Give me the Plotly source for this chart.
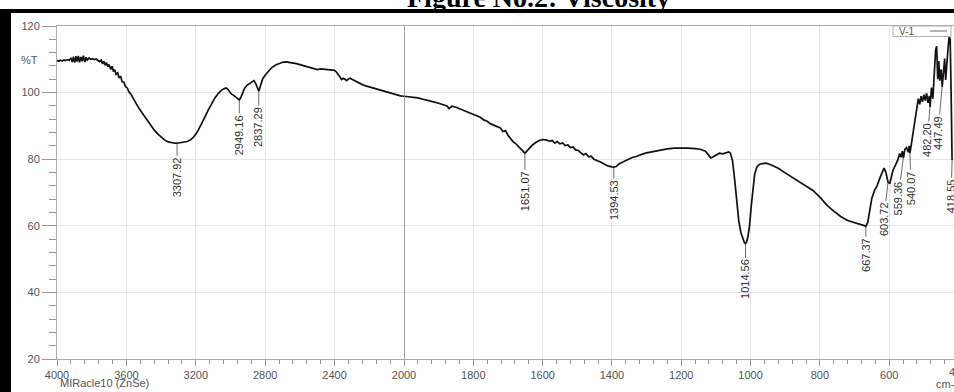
import plotly.graph_objects as go

# ---------------- data ----------------
wavenumber = [
    4000, 3990, 3980, 3970, 3960, 3950, 3940, 3930, 3920, 3912, 3905, 3898, 3890, 3884, 3877, 3870,
    3862, 3855, 3848, 3840, 3832, 3825, 3815, 3805, 3795, 3785, 3775, 3765, 3755, 3745, 3738, 3730,
    3722, 3715, 3707, 3700, 3690, 3682, 3675, 3667, 3660, 3650, 3642, 3633, 3625, 3615, 3605, 3595,
    3585, 3575, 3565, 3555, 3545, 3530, 3515, 3500, 3480, 3460, 3440, 3420, 3400, 3380, 3360, 3340,
    3320, 3308, 3290, 3270, 3250, 3230, 3210, 3190, 3170, 3150, 3130, 3110, 3090, 3070, 3050, 3035,
    3025, 3015, 3005, 2995, 2980, 2965, 2955, 2949, 2940, 2930, 2920, 2905, 2890, 2875, 2865, 2855,
    2846, 2840, 2837, 2832, 2825, 2815, 2800, 2780, 2760, 2740, 2720, 2700, 2680, 2660, 2640, 2620,
    2600, 2580, 2560, 2540, 2520, 2500, 2480, 2460, 2440, 2420, 2400, 2390, 2380, 2370, 2360, 2350,
    2340, 2330, 2320, 2310, 2300, 2280, 2260, 2240, 2220, 2200, 2180, 2160, 2140, 2120, 2100, 2080,
    2060, 2040, 2020, 2000,
    1990, 1975, 1960, 1945, 1930, 1915, 1900, 1885, 1876, 1870, 1862, 1850, 1835, 1820, 1805, 1790,
    1780, 1770, 1760, 1750, 1740, 1730, 1722, 1715, 1707, 1700, 1692, 1685, 1677, 1670, 1662, 1655,
    1651, 1645, 1638, 1630, 1620, 1610, 1600, 1590, 1580, 1572, 1565, 1558, 1550, 1542, 1535, 1527,
    1520, 1512, 1505, 1497, 1490, 1482, 1475, 1467, 1460, 1452, 1445, 1437, 1430, 1420, 1410, 1400,
    1394, 1388, 1380, 1370, 1360, 1350, 1340, 1330, 1320, 1310, 1300, 1285, 1270, 1255, 1240, 1220,
    1200, 1180, 1160, 1145, 1130, 1120, 1115, 1110, 1100, 1090, 1080, 1070, 1063, 1058, 1052, 1046,
    1040, 1034, 1028, 1022, 1018, 1015, 1012, 1008, 1003, 998, 993, 988, 982, 975, 965, 955,
    945, 935, 920, 900, 880, 860, 840, 820, 800, 780, 760, 740, 720, 700, 690, 680,
    672, 667, 662, 656, 650, 642, 635, 627, 620, 615, 610, 605, 603, 598, 595, 589,
    582, 575, 570, 566, 562, 559, 555, 550, 545, 542, 540, 535, 530, 525, 520, 516,
    512, 508, 504, 500, 496, 492, 488, 484, 482, 478, 474, 470, 466, 463, 460, 457,
    454, 450, 447, 443, 440, 437, 434, 430, 427, 424, 421, 419.5, 418.6,
]
transmittance = [
    109.6, 109.4, 109.7, 109.5, 109.8, 109.6, 109.9, 109.7, 110.3, 109.2, 110.8, 109.0, 110.9, 109.3, 111.0, 109.1,
    110.7, 109.4, 111.1, 109.2, 110.6, 109.8, 110.4, 110.0, 110.2, 109.9, 110.1, 109.6, 109.3, 109.8, 108.6, 109.4,
    108.2, 109.0, 107.8, 108.4, 107.0, 107.9, 106.3, 106.9, 105.5, 105.9, 104.4, 104.9, 103.3, 103.1, 101.8, 101.4,
    100.2, 99.6, 98.6, 97.7, 96.9, 95.5, 94.3, 93.2, 91.6, 90.1, 88.8, 87.6, 86.6, 85.8, 85.2, 84.9,
    84.8, 84.8, 84.9, 85.0, 85.3, 85.8, 86.8, 88.3, 90.2, 92.4, 94.6, 96.6, 98.4, 99.8, 100.8, 101.2,
    101.4, 101.0, 100.2, 99.6, 99.1, 98.5, 98.0, 97.8, 98.6, 99.9, 101.2, 102.2, 102.8, 103.4, 103.6, 102.8,
    101.5, 100.6, 100.4, 101.2, 102.8, 104.1, 105.3, 106.6, 107.6, 108.3, 108.8, 109.1, 109.2, 109.1, 108.9, 108.7,
    108.4, 108.1, 107.8, 107.4, 107.1, 106.9, 107.1, 107.0, 106.9, 106.8, 106.7, 106.2, 105.6, 104.8, 103.9, 104.3,
    104.0, 103.6, 104.1, 104.3, 104.0, 103.4, 102.9, 102.4, 102.0, 101.7, 101.4, 101.0, 100.6, 100.3, 100.0, 99.8,
    99.5, 99.2, 99.0, 98.9,
    98.8, 98.6, 98.4, 98.0, 97.7, 97.2, 96.8, 96.4, 96.0, 95.2, 95.9, 95.6, 95.0, 94.4, 93.7, 93.0,
    92.6, 91.8, 91.4, 90.6, 90.2, 89.6, 89.4, 88.3, 88.6, 87.2, 86.2, 85.2, 84.6, 83.9, 83.1, 82.1,
    81.8, 82.5, 83.4, 84.2, 85.0, 85.6, 85.9, 85.8, 85.4, 85.6, 84.8, 85.3, 84.6, 84.9, 84.1, 84.3,
    83.5, 83.7, 82.8, 82.6, 82.0, 81.3, 81.7, 80.7, 80.9, 80.0, 79.7, 79.4, 79.0, 78.4, 77.9, 77.7,
    77.6, 77.8, 78.6, 79.1, 79.6, 79.9, 80.6, 80.8, 81.3, 81.6, 81.9, 82.2, 82.6, 82.9, 83.1, 83.3,
    83.4, 83.3, 83.2, 83.0, 82.4, 81.2, 80.4, 80.6, 81.3, 81.8, 81.6, 82.0, 82.2, 81.8, 79.5, 74.0,
    67.0, 61.5, 58.0, 56.0, 55.0, 54.7, 55.0, 56.5, 60.0, 66.0, 72.0, 75.6, 77.6, 78.4, 78.7, 78.8,
    78.5, 78.0, 77.3, 75.9, 74.6, 73.2, 71.8, 70.6, 68.6, 66.2, 64.4, 62.8, 61.6, 60.9, 60.6, 60.4,
    60.1, 59.9, 61.0, 65.0, 68.3, 70.7, 72.0, 74.3, 76.0, 77.3, 76.2, 74.2, 73.0, 72.8, 74.0, 76.7,
    78.2, 79.8, 81.7, 80.6, 82.4, 80.3, 82.9, 83.5, 82.1, 84.0, 81.8, 85.5, 88.6, 91.8, 96.8, 98.2,
    96.5, 98.9, 97.2, 99.4, 97.6, 99.8, 96.9, 99.0, 95.7, 101.5, 98.2, 104.5, 112.8, 113.9, 104.0, 109.5,
    103.6, 107.0, 101.7, 106.5, 110.2, 103.8, 109.8, 113.5, 116.8, 116.0, 98.0, 84.0, 79.7,
]

peak_labels = ["3307.92", "2949.16", "2837.29", "1651.07", "1394.53", "1014.56", "667.37",
               "603.72", "559.36", "540.07", "482.20", "447.49", "418.55"]
peak_wn = [3307.92, 2949.16, 2837.29, 1651.07, 1394.53, 1014.56, 667.37,
           603.72, 559.36, 540.07, 482.20, 447.49, 418.55]
peak_T = [84.8, 97.8, 100.4, 81.8, 77.6, 54.7, 59.9, 72.8, 80.3, 81.8, 95.7, 101.7, 79.7]
label_dx = [0, 0, 0, 0, 0, 0, 0, -4, -5, 1, -3, -4, -1]
label_dy = [34, 35, 36, 38, 33, 36, 29, 36, 40, 35, 33, 46, 36]

left_ticks = [4000, 3600, 3200, 2800, 2400]
right_ticks = [2000, 1800, 1600, 1400, 1200, 1000, 800, 600]
y_ticks = [20, 40, 60, 80, 100, 120]

# ---------------- figure ----------------
W, H = 954, 392
ML, MR, MT, MB = 57, 0, 26, 33
PW, PH = W - ML - MR, H - MT - MB
split = 347 / PW


def px(xp):
    return (xp - ML) / PW


def py(yp):
    return (H - MB - yp) / PH


left_x = [w for w in wavenumber if w >= 2000]
left_y = [t for w, t in zip(wavenumber, transmittance) if w >= 2000]
right_x = [w for w in wavenumber if w <= 2000]
right_y = [t for w, t in zip(wavenumber, transmittance) if w <= 2000]

line = dict(color="#111111", width=1.7)
fig = go.Figure()
fig.add_trace(go.Scatter(x=left_x, y=left_y, mode="lines", line=line, xaxis="x", yaxis="y",
                         showlegend=False, hoverinfo="skip"))
fig.add_trace(go.Scatter(x=right_x, y=right_y, mode="lines", line=line, xaxis="x2", yaxis="y",
                         showlegend=False, hoverinfo="skip"))

tickfont = dict(family="Liberation Sans, Arial, sans-serif", size=11, color="#555555")
grid = "#e6e6e6"
axcol = "#aaaaaa"

common_x = dict(showgrid=True, gridcolor=grid, gridwidth=1, showline=True, linecolor=axcol,
                linewidth=1, mirror=True, zeroline=False, ticks="outside", ticklen=6,
                tickcolor="#999999", tickfont=tickfont, tickmode="array")

annotations = []
for lab, w, t, dx, dy in zip(peak_labels, peak_wn, peak_T, label_dx, label_dy):
    annotations.append(dict(
        x=w, y=t, xref="x" if w > 2000 else "x2", yref="y", text=lab, textangle=-90,
        showarrow=True, arrowhead=0, arrowwidth=0.8, arrowcolor="#444444", standoff=0,
        ax=dx, ay=dy, font=dict(family="Liberation Sans, Arial, sans-serif", size=11, color="#333333"),
    ))

annotations += [
    dict(x=px(29), y=py(60), xref="paper", yref="paper", text="%T", showarrow=False,
         font=tickfont, xanchor="center", yanchor="middle"),
    dict(x=px(58), y=py(383), xref="paper", yref="paper", text="MIRacle10 (ZnSe)", showarrow=False,
         font=tickfont, xanchor="left", yanchor="middle"),
    dict(x=px(934), y=py(384), xref="paper", yref="paper", text="cm-1", showarrow=False,
         font=tickfont, xanchor="left", yanchor="middle"),
    dict(x=px(958), y=py(372), xref="paper", yref="paper", text="400", showarrow=False,
         font=tickfont, xanchor="center", yanchor="middle"),
    dict(x=px(906), y=py(31), xref="paper", yref="paper", text="V-1", showarrow=False,
         font=dict(family="Liberation Sans, Arial, sans-serif", size=10, color="#555555"),
         xanchor="center", yanchor="middle"),
    dict(x=px(538), y=py(-3), xref="paper", yref="paper", text="<b>Figure No.2: Viscosity</b>",
         showarrow=False, font=dict(family="Liberation Serif, Times New Roman, serif", size=28,
                                    color="#000000"), xanchor="center", yanchor="middle"),
]

shapes = [
    # axis-break line at 2000
    dict(type="line", xref="x2", yref="y", x0=2000, x1=2000, y0=20, y1=120,
         line=dict(color="#8a8a8a", width=1.6)),
    # legend box
    dict(type="rect", xref="paper", yref="paper", x0=px(893), x1=px(951), y0=py(36.5), y1=py(26),
         line=dict(color="#b0b0b0", width=1), fillcolor="white"),
    dict(type="line", xref="paper", yref="paper", x0=px(930), x1=px(947), y0=py(31), y1=py(31),
         line=dict(color="#666666", width=1)),
    # black page frame
    dict(type="rect", xref="paper", yref="paper", xsizemode="pixel", xanchor=0,
         x0=-ML, x1=-ML + 11, y0=py(400), y1=py(9),
         line=dict(width=0), fillcolor="black", layer="above"),
    dict(type="line", xref="paper", yref="paper", x0=px(5.5), x1=px(5.5), y0=py(400), y1=py(9),
         line=dict(width=11, color="black"), layer="above"),
    dict(type="rect", xref="paper", yref="paper", x0=px(0), x1=px(960), y0=py(13), y1=py(9),
         line=dict(width=0), fillcolor="black", layer="above"),
]

fig.update_layout(
    width=W, height=H, autosize=False,
    margin=dict(l=ML, r=MR, t=MT, b=MB, pad=0),
    paper_bgcolor="white", plot_bgcolor="white",
    xaxis=dict(domain=[0, split], range=[4000, 2000], tickvals=left_ticks,
               minor=dict(dtick=80, tick0=4000, ticks="outside", ticklen=4, tickcolor="#999999",
                          showgrid=False),
               anchor="y", **common_x),
    xaxis2=dict(domain=[split, 1], range=[2000, 413], tickvals=right_ticks,
                minor=dict(dtick=40, tick0=2000, ticks="outside", ticklen=4, tickcolor="#999999",
                           showgrid=False),
                anchor="y", **common_x),
    yaxis=dict(range=[20, 120], tickmode="array", tickvals=y_ticks, showgrid=True, gridcolor=grid,
               showline=True, linecolor=axcol, linewidth=1, zeroline=False, ticks="outside",
               ticklen=14, tickcolor="#999999", tickfont=tickfont, anchor="x",
               minor=dict(dtick=4, tick0=20, ticks="outside", ticklen=7, tickcolor="#999999",
                          showgrid=False)),
    annotations=annotations,
    shapes=shapes,
)

fig.write_html(
    "out.html",
    config={"displayModeBar": False, "staticPlot": True},
    post_script="document.body.style.margin='0';document.body.style.padding='0';"
                "document.documentElement.style.margin='0';document.body.style.overflow='hidden';",
)
